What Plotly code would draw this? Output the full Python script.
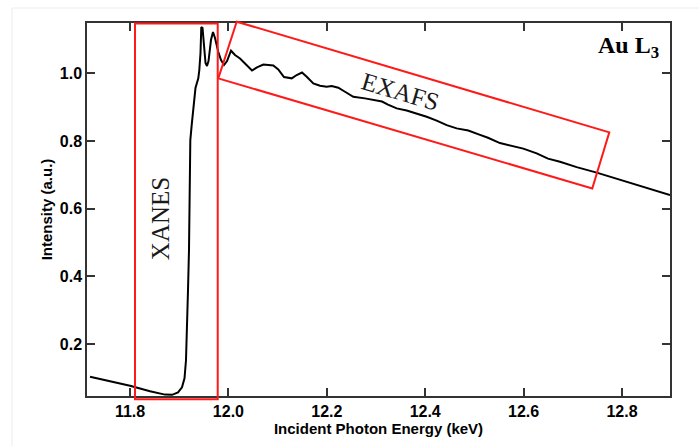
import plotly.graph_objects as go

# Au L3-edge absorption spectrum
energy_kev = [
    11.7187, 11.7593, 11.8000, 11.8407, 11.8711, 11.8854, 11.8976, 11.9057,
    11.9108, 11.9138, 11.9159, 11.9179, 11.9199, 11.9205, 11.9213, 11.9226,
    11.9254, 11.9280, 11.9301, 11.9331, 11.9388, 11.9409, 11.9433, 11.9449,
    11.9474, 11.9504, 11.9535, 11.9565, 11.9596, 11.9646, 11.9687, 11.9728,
    11.9795, 11.9850, 11.9911, 11.9972, 12.0053, 12.0134, 12.0236, 12.0358,
    12.0480, 12.0581, 12.0710, 12.0913, 12.1014, 12.1130, 12.1287, 12.1388,
    12.1496, 12.1592, 12.1726, 12.1862, 12.1998, 12.2100, 12.2234, 12.2370,
    12.2539, 12.2776, 12.2980, 12.3122, 12.3244, 12.3421, 12.3624, 12.3827,
    12.4030, 12.4234, 12.4437, 12.4640, 12.4876, 12.5073, 12.5276, 12.5520,
    12.5724, 12.5994, 12.6266, 12.6496, 12.6740, 12.7079, 12.7486, 12.7823,
    12.8163, 12.8502, 12.8772, 12.8976,
]
intensity = [
    0.103, 0.0896, 0.0763, 0.0601, 0.0503, 0.0497, 0.0571, 0.0719,
    0.0985, 0.1518, 0.2405, 0.3589, 0.4772, 0.5956, 0.7139, 0.8027,
    0.8470, 0.8855, 0.9269, 0.9565, 0.9852, 1.0098, 1.0601, 1.1370,
    1.1340, 1.0689, 1.0305, 1.0216, 1.0364, 1.0985, 1.1222, 1.1044,
    1.0630, 1.0393, 1.0246, 1.0364, 1.0669, 1.0541, 1.0438, 1.0260,
    1.0083, 1.0178, 1.0260, 1.0231, 1.0118, 0.9891, 0.9852, 0.9950,
    1.0024, 0.9899, 0.9704, 0.9633, 0.9604, 0.9624, 0.9574, 0.9456,
    0.9308, 0.9260, 0.9210, 0.9166, 0.9077, 0.8964, 0.8899, 0.8817,
    0.8716, 0.8604, 0.8470, 0.8373, 0.8308, 0.8204, 0.8095, 0.7938,
    0.7864, 0.7775, 0.7633, 0.7479, 0.7385, 0.7228, 0.7065, 0.6917,
    0.6769, 0.6621, 0.6488, 0.6399,
]

x_ticks = [11.8, 12.0, 12.2, 12.4, 12.6, 12.8]
y_ticks = [0.2, 0.4, 0.6, 0.8, 1.0]

x_range = [11.7126, 12.8976]
y_range = [0.0462, 1.1488]

# region outlines (in data units)
xanes_box = [(11.8102, 0.0364), (11.9783, 1.1473)]
exafs_box = [(12.0169, 1.1527), (12.7742, 0.8254), (12.7396, 0.6598), (11.9795, 0.9852)]


def to_paper(x, y):
    px = (x - x_range[0]) / (x_range[1] - x_range[0])
    py = (y - y_range[0]) / (y_range[1] - y_range[0])
    return px, py


fig = go.Figure()
fig.add_trace(go.Scatter(
    x=energy_kev, y=intensity, mode="lines",
    line=dict(color="black", width=2), showlegend=False,
))

shapes = []
# faint outer frame
shapes.append(dict(type="rect", xref="paper", yref="paper",
                   x0=-0.1286, x1=1.06, y0=-0.15, y1=1.0402,
                   line=dict(color="#ececec", width=1), layer="below"))

(ax0, ay0), (ax1, ay1) = xanes_box
p0 = to_paper(ax0, ay0)
p1 = to_paper(ax1, ay1)
shapes.append(dict(type="rect", xref="paper", yref="paper",
                   x0=p0[0], y0=p0[1], x1=p1[0], y1=p1[1],
                   line=dict(color="#ff1a1a", width=2)))

pts = [to_paper(x, y) for x, y in exafs_box]
path = "M " + " L ".join(f"{px:.5f},{py:.5f}" for px, py in pts) + " Z"
shapes.append(dict(type="path", xref="paper", yref="paper", path=path,
                   line=dict(color="#ff1a1a", width=2)))

serif = "Liberation Serif, Times New Roman, serif"
sans = "Liberation Sans, Arial, sans-serif"
annotations = [
    dict(x=11.861, y=0.569, xref="x", yref="y", text="XANES", showarrow=False,
         textangle=-90, font=dict(family=serif, size=25, color="#1a1a1a")),
    dict(x=12.3488, y=0.9476, xref="x", yref="y", text="EXAFS", showarrow=False,
         textangle=16.5, font=dict(family=serif, size=25, color="#1a1a1a")),
    dict(x=12.8142, y=1.0778, xref="x", yref="y", text="<b>Au L<sub>3</sub></b>",
         showarrow=False, font=dict(family=serif, size=24, color="black")),
]

axis_common = dict(
    showline=True, mirror="ticks", linecolor="#333333", linewidth=1.5,
    ticks="inside", ticklen=8, tickwidth=1.5, tickcolor="#333333",
    showgrid=False, zeroline=False,
    tickfont=dict(family=sans, size=16, color="black", weight="bold"),
)

fig.update_layout(
    width=699, height=446,
    margin=dict(l=87, r=29, t=23, b=50),
    paper_bgcolor="white", plot_bgcolor="white",
    shapes=shapes, annotations=annotations,
    xaxis=dict(range=x_range, tickvals=x_ticks, tickformat=".1f",
               title=dict(text="<b>Incident Photon Energy (keV)</b>", standoff=2,
                          font=dict(family=sans, size=15, color="black")),
               **axis_common),
    yaxis=dict(range=y_range, tickvals=y_ticks, tickformat=".1f",
               title=dict(text="<b>Intensity (a.u.)</b>", standoff=4,
                          font=dict(family=sans, size=15, color="black")),
               **axis_common),
)

fig.write_html("out.html")
